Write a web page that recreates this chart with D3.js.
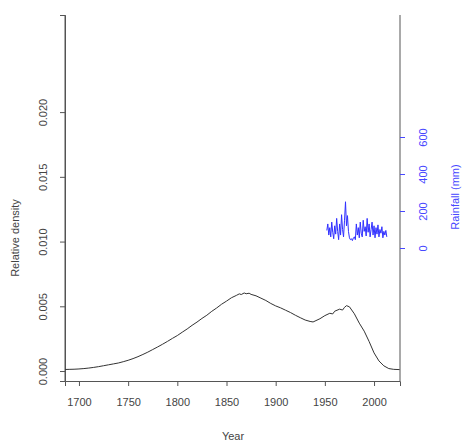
<!DOCTYPE html>
<head>
<meta charset="utf-8">
<style>
body { margin: 0; background: #fff; }
text { font-family: "Liberation Sans", Arial, sans-serif; }
.axis path, .axis line { stroke: #555; }
.axis text { fill: #444; font-size: 11px; }
.blue path, .blue line { stroke: #4848ff; }
.blue text { fill: #4848ff; }
</style>
</head>
<body>
<div class="viz"></div>
<script src="https://d3js.org/d3.v7.min.js"></script>
<script>
// density curve (Year vs relative density)
const densityYears = [1686, 1690, 1695, 1700, 1705, 1710, 1715, 1720, 1725, 1730, 1735, 1740, 1745,
    1750, 1755, 1760, 1765, 1770, 1775, 1780, 1785, 1790, 1795, 1800, 1805, 1810, 1815, 1820,
    1825, 1830, 1835, 1840, 1845, 1850, 1855, 1860, 1863, 1865, 1868, 1870, 1873, 1875, 1880,
    1885, 1890, 1895, 1900, 1905, 1910, 1915, 1920, 1925, 1930, 1935, 1938, 1940, 1945, 1950,
    1955, 1958, 1960, 1965, 1968, 1970, 1972, 1975, 1980, 1985, 1990, 1995, 2000, 2005, 2010, 2015, 2020, 2026];
const densityValues = [0.00012, 0.00013, 0.00014, 0.00016, 0.00019, 0.00023, 0.00028, 0.00034, 0.00041,
    0.00048, 0.00055, 0.00062, 0.00072, 0.00083, 0.00096, 0.00111, 0.00128, 0.00146, 0.00166,
    0.00186, 0.00207, 0.00229, 0.00252, 0.00274, 0.00300, 0.00325, 0.00353, 0.00378, 0.00406,
    0.00431, 0.00461, 0.00487, 0.00516, 0.00540, 0.00566, 0.00584, 0.00596, 0.00591, 0.00603,
    0.00597, 0.00601, 0.00592, 0.00581, 0.00563, 0.00545, 0.00522, 0.00503, 0.00488, 0.00470,
    0.00452, 0.00431, 0.00412, 0.00394, 0.00383, 0.00379, 0.00386, 0.00404, 0.00428, 0.00446,
    0.00441, 0.00462, 0.00478, 0.00471, 0.00492, 0.00505, 0.00496, 0.00442, 0.00370, 0.00308,
    0.00228, 0.00140, 0.00078, 0.00040, 0.00019, 0.00013, 0.00011];

// annual rainfall (mm)
const rainYears = d3.range(1952, 2014);
const rainValues = [95, 130, 70, 110, 60, 140, 85, 50, 120, 75, 160, 90, 45, 130, 70, 180, 100, 60,
    150, 250, 120, 175, 90, 55, 45, 50, 40, 55, 60, 45, 130, 70, 110, 55, 140, 80, 60, 150, 90,
    115, 65, 160, 85, 130, 60, 100, 140, 70, 120, 55, 110, 75, 125, 60, 100, 80, 115, 55, 90, 70,
    95, 60];

const xTicks = [1700, 1750, 1800, 1850, 1900, 1950, 2000];
const densityTicks = [0, 0.005, 0.010, 0.015, 0.020];
const rainTicks = [0, 200, 400, 600];

const W = 462, H = 448;
const margin = { top: 15, right: 62, bottom: 67, left: 65 };
const iw = W - margin.left - margin.right;
const ih = H - margin.top - margin.bottom;

const svg = d3.select(".viz").append("svg")
    .attr("width", W)
    .attr("height", H);
const g = svg.append("g")
    .attr("transform", "translate(" + margin.left + "," + margin.top + ")");

const x = d3.scaleLinear().domain([1685.8, 2026.4]).range([0, iw]);
const y = d3.scaleLinear().domain([-0.00077, 0.0275]).range([ih, 0]);
// rainfall axis: 0 at y=248, 600 at y=137 (page coords)
const yRain = d3.scaleLinear().domain([0, 600]).range([248 - margin.top, 137 - margin.top]);

// bottom axis
const xAxis = g.append("g")
    .attr("class", "axis")
    .attr("transform", "translate(0," + ih + ")")
    .call(d3.axisBottom(x).tickValues(xTicks).tickFormat(d3.format("d")).tickSizeOuter(0).tickSize(5).tickPadding(12));

// left axis
const yAxis = g.append("g")
    .attr("class", "axis")
    .call(d3.axisLeft(y).tickValues(densityTicks).tickFormat(d3.format(".3f")).tickSizeOuter(0).tickSize(5));
yAxis.selectAll(".tick text")
    .attr("x", null).attr("dy", null)
    .attr("text-anchor", "middle")
    .attr("transform", "translate(-22,0) rotate(-90)")
    .attr("dy", "0.35em");

// right axis line (gray, full height)
g.append("line")
    .attr("x1", iw).attr("x2", iw)
    .attr("y1", 0).attr("y2", ih)
    .attr("stroke", "#555");
// left axis line full height
g.append("line")
    .attr("x1", 0).attr("x2", 0)
    .attr("y1", 0).attr("y2", ih)
    .attr("stroke", "#555");

// right rainfall axis
const rAxis = g.append("g")
    .attr("class", "axis blue")
    .attr("transform", "translate(" + iw + ",0)")
    .call(d3.axisRight(yRain).tickValues(rainTicks).tickSizeOuter(0).tickSize(5));
rAxis.select(".domain").remove();
rAxis.selectAll(".tick text")
    .attr("x", null).attr("dy", null)
    .attr("text-anchor", "middle")
    .attr("transform", "translate(23,0) rotate(-90)")
    .attr("dy", "0.35em");

// density line
const densityData = densityYears.map((d, i) => ({ year: d, v: densityValues[i] }));
g.append("path")
    .datum(densityData)
    .attr("fill", "none")
    .attr("stroke", "#333")
    .attr("stroke-width", 1)
    .attr("d", d3.line().x(d => x(d.year)).y(d => y(d.v)));

// rainfall line
const rainData = rainYears.map((d, i) => ({ year: d, v: rainValues[i] }));
g.append("path")
    .datum(rainData)
    .attr("fill", "none")
    .attr("stroke", "#3030ff")
    .attr("stroke-width", 1)
    .attr("d", d3.line().x(d => x(d.year)).y(d => yRain(d.v)));

// axis titles
svg.append("text")
    .attr("x", 233).attr("y", 440)
    .attr("text-anchor", "middle")
    .attr("font-size", 11).attr("fill", "#444")
    .text("Year");
svg.append("text")
    .attr("transform", "translate(15,238) rotate(-90)")
    .attr("dy", "0.35em")
    .attr("text-anchor", "middle")
    .attr("font-size", 11).attr("fill", "#444")
    .text("Relative density");
svg.append("text")
    .attr("transform", "translate(455,197) rotate(-90)")
    .attr("dy", "0.35em")
    .attr("text-anchor", "middle")
    .attr("font-size", 11).attr("fill", "#4848ff")
    .text("Rainfall (mm)");
</script>
</body>
